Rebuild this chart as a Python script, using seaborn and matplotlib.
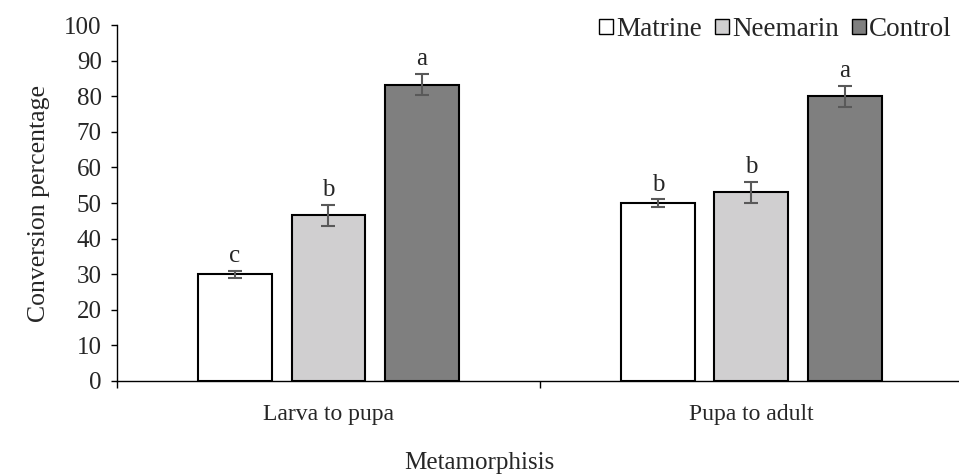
import matplotlib
matplotlib.use("Agg")
import matplotlib.pyplot as plt
import seaborn as sns
import pandas as pd
from matplotlib.patches import Patch

categories = ["Larva to pupa", "Pupa to adult"]
treatments = ["Matrine", "Neemarin", "Control"]
matrine = [30.0, 50.0]
neemarin = [46.5, 53.0]
control = [83.3, 80.0]
matrine_err = [1.0, 1.0]
neemarin_err = [3.0, 3.0]
control_err = [3.0, 3.0]
matrine_letters = ["c", "b"]
neemarin_letters = ["b", "b"]
control_letters = ["a", "a"]
colors = ["#ffffff", "#d0cfd0", "#7f7f7f"]

values = [matrine, neemarin, control]
errors = [matrine_err, neemarin_err, control_err]
letters = [matrine_letters, neemarin_letters, control_letters]

rows = []
for t, vals in zip(treatments, values):
    for c, v in zip(categories, vals):
        rows.append({"Metamorphisis": c, "Treatment": t, "Value": v})
df = pd.DataFrame(rows)

sns.set_theme(style="white")
plt.rcParams["font.family"] = ["Liberation Serif", "DejaVu Serif"]
FS = 18

fig = plt.figure(figsize=(9.59, 4.76), dpi=100)
ax = fig.add_axes([0.122, 0.20, 0.882, 0.747])

sns.barplot(data=df, x="Metamorphisis", y="Value", hue="Treatment",
            order=categories, hue_order=treatments, palette=colors,
            edgecolor="black", linewidth=1.5, width=0.663, gap=0.21,
            errorbar=None, legend=False, ax=ax)

for cont, errs, labs in zip(ax.containers, errors, letters):
    for bar, e, lab in zip(cont, errs, labs):
        xc = bar.get_x() + bar.get_width() / 2
        h = bar.get_height()
        ax.errorbar(xc, h, yerr=e, color="#595959", capsize=5,
                    elinewidth=1.5, capthick=1.5, zorder=5)
        ax.annotate(lab, (xc, h + e), xytext=(0, 2.5), textcoords="offset points",
                    ha="center", va="bottom", fontsize=FS)

ax.set_xlim(-0.5, 1.5)
ax.set_ylim(0, 100)
ax.set_yticks(range(0, 101, 10))
ax.set_xticks([0, 1])
ax.set_xticklabels(categories)
ax.set_xticks([-0.5, 0.5, 1.5], minor=True)
ax.tick_params(axis="x", which="major", length=0, pad=17, labelsize=17)
ax.tick_params(axis="x", which="minor", length=5, width=1, direction="out", color="black")
ax.tick_params(axis="y", length=4, width=1, direction="out", color="black", pad=7, labelsize=FS)
ax.yaxis.set_ticks_position("left")
ax.xaxis.set_ticks_position("bottom")

for s in ["top", "right"]:
    ax.spines[s].set_visible(False)
for s in ["left", "bottom"]:
    ax.spines[s].set_color("black")
    ax.spines[s].set_linewidth(1)

ax.set_xlabel("")
ax.set_ylabel("Conversion percentage", fontsize=18.5, labelpad=10)
fig.text(0.5, 0.027, "Metamorphisis", ha="center", va="center", fontsize=FS)

handles = [Patch(facecolor=c, edgecolor="black", linewidth=1) for c in colors]
fig.legend(handles, treatments, loc="upper right", bbox_to_anchor=(0.998, 0.976),
           ncol=3, frameon=False, fontsize=19.5, handlelength=0.5, handleheight=0.5,
           handletextpad=0.12, columnspacing=0.5, borderaxespad=0.0, borderpad=0.2)

fig.savefig("out.png", dpi=100)
